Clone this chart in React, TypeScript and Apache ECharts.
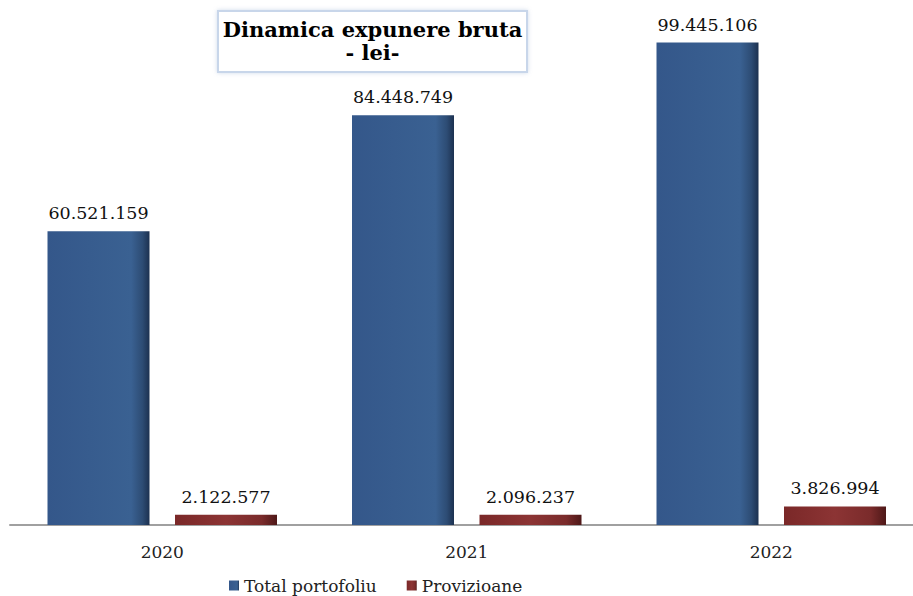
import React, { useEffect, useRef } from "react";
import * as echarts from "echarts";

const categories = ["2020", "2021", "2022"];
const totalPortofoliu = [60521159, 84448749, 99445106];
const provizioane = [2122577, 2096237, 3826994];
const seriesNames = ["Total portofoliu", "Provizioane"];
const titleLines = ["Dinamica expunere bruta", "- lei-"];

const fmt = (v: number) => String(Math.round(v)).replace(/\B(?=(\d{3})+(?!\d))/g, ".");

const FONT = "DejaVu Serif";

export default function App() {
  const ref = useRef<HTMLDivElement>(null);
  useEffect(() => {
    if (!ref.current) return;
    const chart = echarts.init(ref.current, undefined, { renderer: "svg" });
    const blue = new echarts.graphic.LinearGradient(0, 0, 1, 0, [
      { offset: 0, color: "#34578a" },
      { offset: 0.82, color: "#3a6192" },
      { offset: 0.93, color: "#2d4c74" },
      { offset: 1, color: "#1c3150" },
    ]);
    const red = new echarts.graphic.LinearGradient(0, 0, 1, 0, [
      { offset: 0, color: "#7a2828" },
      { offset: 0.5, color: "#8c3434" },
      { offset: 0.85, color: "#7a2b2b" },
      { offset: 1, color: "#4e1818" },
    ]);
    const labelStyle = {
      show: true,
      position: "top" as const,
      distance: 9,
      fontFamily: FONT,
      fontSize: 17.5,
      color: "#111",
      formatter: (p: any) => fmt(p.value),
    };
    chart.setOption({
      animation: false,
      backgroundColor: "#ffffff",
      grid: { left: 10, width: 913.5, top: 1, bottom: 71, containLabel: false },
      xAxis: {
        type: "category",
        data: categories,
        axisLine: { lineStyle: { color: "#a0a0a0", width: 2 } },
        axisTick: { show: false },
        axisLabel: { fontFamily: FONT, fontSize: 17, color: "#222", margin: 18 },
      },
      yAxis: {
        type: "value",
        min: 0,
        max: 108000000,
        show: false,
        splitLine: { show: false },
      },
      legend: {
        left: 224,
        top: 572,
        itemWidth: 10,
        itemHeight: 10,
        itemGap: 30,
        icon: "rect",
        textStyle: { fontFamily: FONT, fontSize: 17, color: "#222" },
        data: seriesNames,
      },
      series: [
        {
          name: seriesNames[0],
          type: "bar",
          data: totalPortofoliu,
          barWidth: 102,
          barGap: "25%",
          itemStyle: { color: blue },
          label: labelStyle,
        },
        {
          name: seriesNames[1],
          type: "bar",
          data: provizioane,
          barWidth: 102,
          itemStyle: { color: red },
          label: labelStyle,
        },
      ],
      color: ["#2f4d78", "#7a2626"],
      graphic: [
        {
          type: "rect",
          shape: { x: 218, y: 11, width: 309, height: 61 },
          style: {
            fill: "#ffffff",
            stroke: "#c8d6ea",
            lineWidth: 2,
            shadowBlur: 4,
            shadowColor: "rgba(120,150,200,0.35)",
          },
          z: 10,
        },
        {
          type: "text",
          x: 372.5,
          y: 41,
          style: {
            text: titleLines.join("\n"),
            fontFamily: FONT,
            fontWeight: "bold",
            fontSize: 21,
            lineHeight: 23,
            fill: "#000",
            align: "center",
            verticalAlign: "middle",
          },
          z: 11,
        },
      ],
    });
    return () => chart.dispose();
  }, []);
  return (
    <div
      ref={ref}
      style={{ position: "fixed", left: 0, top: 0, width: 930, height: 596 }}
    />
  );
}
